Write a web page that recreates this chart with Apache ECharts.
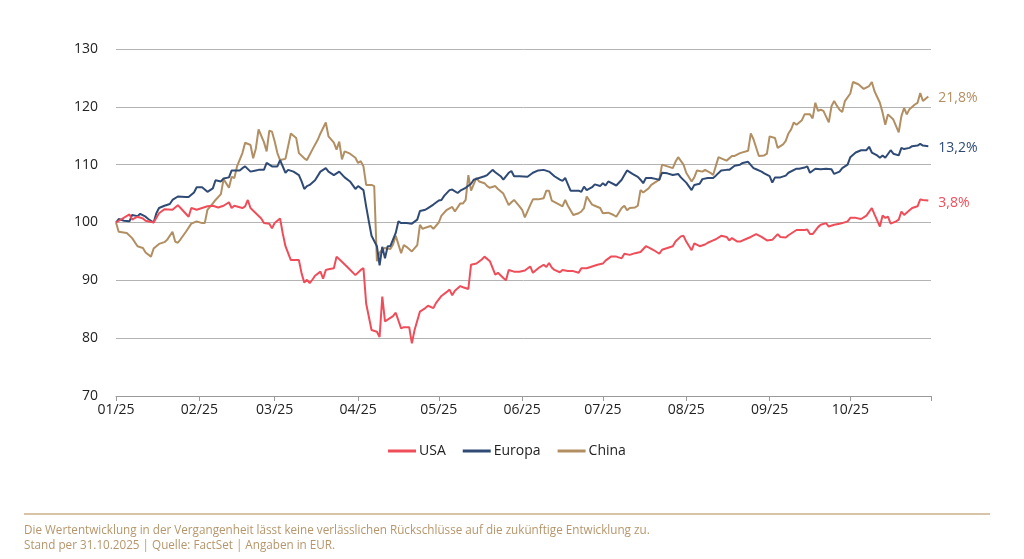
<!DOCTYPE html>
<html><head><meta charset="utf-8">
<script src="https://cdn.jsdelivr.net/npm/echarts@6/dist/echarts.min.js"></script>
<style>html,body{margin:0;padding:0;background:#fff}#c{width:1024px;height:559px}</style>
</head><body><div id="c"></div>
<script>
const seriesNames = ['USA', 'Europa', 'China'];
const endLabels = ['3,8%', '13,2%', '21,8%'];
const seriesColors = ['#ef4d59', '#2f4a75', '#b28f62'];
// days since 01.01.2025
const monthStarts = [0, 31, 59, 90, 120, 151, 181, 212, 243, 273];
const monthLabels = ['01/25', '02/25', '03/25', '04/25', '05/25', '06/25', '07/25', '08/25', '09/25', '10/25'];
const periodEnd = 303;
const footerLines = [
  'Die Wertentwicklung in der Vergangenheit lässt keine verlässlichen Rückschlüsse auf die zukünftige Entwicklung zu.',
  'Stand per 31.10.2025 | Quelle: FactSet | Angaben in EUR.'
];

const usa = [[0,100],[5,101.4],[6,100.5],[8,101.0],[10,100.7],[11,100.3],[14,100],[16,101.6],[18,102.3],[21,102.2],[23,103.0],[24,102.5],[27,101.0],[28,102.5],[30,102.2],[32,102.5],[34,102.8],[36,102.9],[38,102.6],[40,102.9],[42,103.5],[43,102.5],[44,102.9],[47,102.5],[48,102.8],[49,103.9],[50,102.5],[52,101.6],[54,100.7],[55,99.9],[57,99.8],[58,99.0],[59,99.9],[61,100.7],[62,98.1],[63,95.9],[65,93.5],[66,93.5],[68,93.5],[69,91.2],[70,89.6],[71,90.1],[72,89.5],[73,90.1],[74,90.8],[76,91.5],[77,90.3],[78,91.8],[79,91.9],[81,92.1],[82,94.1],[84,93.2],[86,92.3],[89,90.9],[91,91.8],[92,92.1],[93,86.0],[94,83.7],[95,81.4],[97,81.1],[98,80.2],[99,87.2],[100,82.9],[101,83.2],[103,83.8],[104,84.4],[106,81.7],[107,81.9],[109,81.9],[110,79.1],[111,81.4],[113,84.6],[115,85.2],[116,85.6],[118,85.2],[119,86.1],[121,87.3],[123,88.0],[124,88.4],[125,87.4],[126,88.2],[128,89.0],[129,88.8],[131,88.5],[132,92.7],[134,92.9],[136,93.6],[137,94.1],[139,93.3],[141,91.0],[142,91.3],[144,90.4],[145,90.0],[146,91.8],[148,91.5],[150,91.5],[152,91.7],[154,92.4],[155,91.3],[157,92.1],[159,92.7],[160,92.3],[161,93.0],[162,92.2],[163,91.8],[165,91.4],[166,91.8],[168,91.6],[170,91.6],[172,91.3],[173,92.1],[175,92.1],[177,92.4],[179,92.7],[181,92.9],[182,93.4],[184,94.1],[186,94.1],[188,93.8],[189,94.6],[191,94.4],[193,94.7],[195,94.9],[197,95.9],[198,95.7],[200,95.2],[202,94.6],[203,95.3],[205,95.6],[207,95.9],[208,96.7],[210,97.6],[211,97.7],[212,96.7],[214,95.2],[215,96.4],[217,95.9],[219,96.2],[220,96.5],[222,96.9],[223,97.1],[225,97.7],[227,97.5],[228,96.9],[229,97.3],[231,96.7],[232,96.7],[234,97.1],[236,97.5],[238,98.0],[240,97.5],[242,96.9],[244,97.0],[246,98.0],[247,97.5],[249,97.4],[250,97.8],[253,98.7],[256,98.7],[257,98.8],[258,98.0],[259,98.0],[261,99.2],[262,99.6],[264,99.9],[265,99.3],[267,99.6],[269,99.8],[270,99.9],[272,100.2],[273,100.8],[275,100.8],[277,100.6],[279,101.2],[281,102.5],[282,101.4],[284,99.3],[285,101.2],[286,100.8],[287,101.0],[288,99.8],[290,100.2],[291,100.5],[292,101.9],[293,101.3],[295,102.1],[296,102.5],[298,102.8],[299,104.0],[300,103.9],[302,103.8]];

const europa = [[0,100],[1,100.6],[3,100.3],[5,100.2],[6,101.3],[8,101.1],[9,101.5],[11,101.0],[12,100.6],[14,100],[15,101.6],[16,102.5],[18,102.9],[20,103.2],[21,103.9],[23,104.5],[26,104.4],[27,104.4],[29,105.2],[30,106.1],[32,106.1],[34,105.3],[36,105.9],[37,107.3],[39,107.1],[40,107.6],[42,107.8],[43,109.0],[46,109.0],[47,109.4],[48,109.7],[50,108.8],[52,109.0],[53,109.1],[55,109.1],[56,110.3],[58,109.7],[60,109.7],[61,110.8],[63,108.6],[64,109.1],[66,108.8],[68,108.2],[69,107.1],[70,105.8],[71,106.3],[72,106.5],[74,107.3],[76,108.8],[78,109.4],[79,108.8],[81,108.2],[83,108.8],[85,107.8],[87,107.1],[89,105.8],[90,106.3],[92,105.6],[93,102.8],[94,100.2],[95,97.7],[97,95.9],[98,92.6],[99,95.8],[100,93.8],[101,95.9],[102,95.9],[104,98.2],[105,100.2],[106,99.9],[108,99.9],[110,99.8],[112,100.5],[113,102.0],[115,102.2],[116,102.5],[118,103.1],[120,103.8],[121,103.9],[122,104.6],[124,105.6],[125,105.7],[127,105.1],[128,105.5],[130,106.0],[132,106.7],[133,107.4],[135,107.7],[137,108.0],[138,108.2],[140,109.1],[141,108.7],[143,108.0],[144,107.4],[146,108.6],[147,108.9],[148,108.0],[150,108.0],[153,107.9],[155,108.6],[157,109.0],[159,109.1],[161,108.8],[163,108.0],[165,107.4],[166,107.2],[167,107.7],[168,106.6],[169,105.5],[172,105.5],[173,105.3],[174,106.2],[175,105.6],[177,106.1],[178,106.6],[180,106.3],[181,106.8],[182,106.4],[183,107.1],[186,106.4],[188,107.4],[189,108.2],[190,109.0],[192,108.4],[194,107.9],[195,107.4],[196,106.8],[197,107.7],[199,107.7],[201,107.5],[202,107.4],[203,108.6],[205,108.5],[207,108.2],[209,108.4],[210,107.8],[212,106.9],[214,105.6],[215,106.5],[217,106.7],[218,107.5],[220,107.7],[222,107.7],[223,108.1],[225,109.0],[227,109.1],[228,109.1],[230,109.8],[232,110.0],[233,110.3],[235,110.5],[237,109.4],[238,109.2],[240,108.8],[241,108.5],[243,108.0],[244,106.9],[245,107.8],[247,107.8],[249,108.1],[250,108.6],[253,109.3],[254,109.3],[256,109.5],[257,109.7],[258,108.6],[260,109.3],[262,109.2],[264,109.3],[266,109.2],[267,108.4],[269,108.8],[270,109.4],[272,110.0],[273,111.3],[275,112.1],[277,112.5],[279,112.5],[280,113.1],[281,112.1],[283,111.6],[284,111.2],[285,111.6],[286,111.2],[288,112.5],[289,111.9],[291,111.6],[292,112.9],[293,112.7],[295,112.9],[296,113.2],[298,113.3],[299,113.6],[300,113.3],[302,113.2]];

const china = [[0,100],[1,98.4],[4,98.2],[6,97.3],[8,95.9],[10,95.6],[11,94.8],[13,94.1],[14,95.5],[16,96.3],[18,96.6],[19,97.0],[21,98.4],[22,96.7],[23,96.5],[24,97.1],[26,98.4],[28,99.8],[30,100.2],[32,99.9],[33,99.9],[34,102.2],[36,103.3],[37,103.9],[39,104.9],[40,107.5],[42,106.0],[43,107.9],[44,107.7],[45,109.7],[47,112.0],[48,113.8],[50,113.4],[51,111.1],[52,112.8],[53,116.1],[55,113.9],[56,112.3],[57,115.9],[58,115.7],[59,114.0],[60,112.0],[61,110.8],[63,111.0],[65,115.4],[67,114.6],[68,112.0],[70,111.1],[71,110.8],[73,112.6],[75,114.3],[76,115.4],[78,117.3],[79,114.9],[81,113.8],[82,112.6],[83,114.0],[84,110.9],[85,112.3],[87,111.9],[89,111.2],[90,110.3],[91,110.6],[92,109.7],[93,106.5],[95,106.5],[96,106.3],[97,93.3],[98,94.8],[99,95.3],[100,95.6],[102,95.4],[103,96.2],[104,97.7],[106,94.7],[107,96.1],[108,95.8],[110,95.0],[112,96.1],[113,99.6],[114,98.9],[115,99.1],[117,99.4],[118,98.9],[120,100.0],[121,101.2],[123,102.2],[125,102.7],[126,101.9],[128,103.3],[129,103.3],[130,103.9],[131,108.2],[132,105.5],[134,107.7],[135,107.1],[137,106.8],[138,106.3],[139,106.0],[141,106.3],[142,105.8],[144,105.0],[146,103.0],[147,103.5],[148,103.9],[150,102.8],[151,102.2],[152,100.9],[154,103.0],[155,104.0],[157,104.0],[159,104.2],[160,105.5],[161,105.5],[162,103.8],[164,103.3],[166,102.8],[167,103.9],[168,102.9],[170,101.3],[172,101.6],[173,101.9],[174,102.5],[175,104.5],[177,103.1],[178,102.9],[180,102.5],[181,101.6],[183,101.7],[185,101.3],[186,101.0],[188,102.5],[189,102.9],[190,102.1],[191,102.5],[193,102.6],[194,102.9],[195,105.6],[196,105.2],[198,105.9],[199,106.5],[200,106.8],[202,107.4],[203,110.0],[205,109.7],[207,109.4],[208,110.5],[209,111.3],[211,110.0],[212,108.6],[214,107.1],[215,107.8],[216,109.0],[218,108.8],[219,109.1],[221,108.6],[222,108.2],[224,111.3],[225,111.1],[227,110.7],[229,111.5],[230,111.5],[232,112.0],[235,112.4],[236,115.4],[237,114.4],[239,111.5],[241,111.6],[242,111.9],[243,114.9],[245,114.6],[246,112.9],[248,113.5],[249,114.1],[250,115.4],[251,116.1],[252,117.3],[253,116.9],[255,117.7],[256,118.7],[258,118.7],[259,118.0],[260,120.7],[261,119.3],[262,119.5],[263,119.3],[265,117.3],[266,120.1],[267,121.0],[268,120.2],[269,119.5],[270,119.1],[271,121.0],[273,122.3],[274,124.3],[276,123.9],[278,123.1],[280,123.6],[281,124.3],[282,122.7],[284,120.7],[285,119.0],[286,116.9],[287,118.7],[289,117.8],[291,115.6],[292,118.4],[293,119.8],[294,118.7],[295,119.6],[297,120.4],[298,120.7],[299,122.4],[300,121.0],[301,121.4],[302,121.8]];

const seriesData = [usa, europa, china];
const FONT = '"Open Sans", "Noto Sans", sans-serif';

const chart = echarts.init(document.getElementById('c'));
chart.setOption({
  animation: false,
  backgroundColor: '#ffffff',
  textStyle: { fontFamily: FONT },
  grid: { left: 116, right: 93, top: 49, bottom: 163 },
  xAxis: {
    type: 'value', min: 0, max: periodEnd,
    axisLine: { show: true, lineStyle: { color: '#9a9a9a', width: 1 } },
    axisTick: { show: true, customValues: monthStarts.concat([periodEnd]), length: 5, lineStyle: { color: '#9a9a9a' } },
    axisLabel: {
      customValues: monthStarts, color: '#222', fontSize: 14, margin: 7, fontFamily: FONT,
      formatter: v => monthLabels[monthStarts.indexOf(v)] || ''
    },
    splitLine: { show: false }
  },
  yAxis: {
    type: 'value', min: 70, max: 130, interval: 10,
    axisLine: { show: false }, axisTick: { show: false },
    axisLabel: { color: '#222', fontSize: 14, margin: 18, fontFamily: FONT },
    splitLine: { lineStyle: { color: '#b3b3b3', width: 1 } }
  },
  legend: {
    data: seriesNames, top: 439, left: 383,
    icon: 'rect', itemWidth: 28, itemHeight: 3, itemGap: 17,
    textStyle: { color: '#222', fontSize: 14, fontFamily: FONT, padding: [0, 0, 0, -2] }
  },
  series: seriesNames.map((name, i) => ({
    name, type: 'line', data: seriesData[i], showSymbol: false, symbol: 'none',
    color: seriesColors[i],
    lineStyle: { width: 2, color: seriesColors[i] },
    z: i === 0 ? 4 : (i === 1 ? 3 : 2),
    endLabel: {
      show: true, formatter: () => endLabels[i], color: seriesColors[i],
      fontSize: 14, fontFamily: FONT, distance: 10, offset: [0, 2]
    }
  })),
  graphic: [
    { type: 'line', shape: { x1: 24, y1: 514, x2: 990, y2: 514 }, style: { stroke: '#cbb28c', lineWidth: 1.5 } },
    { type: 'text', x: 24, y: 531, style: { text: footerLines[0], fill: '#b5966c', font: '11.7px ' + FONT, verticalAlign: 'middle' } },
    { type: 'text', x: 24, y: 546, style: { text: footerLines[1], fill: '#b5966c', font: '11.7px ' + FONT, verticalAlign: 'middle' } }
  ]
});
</script>
</body></html>
